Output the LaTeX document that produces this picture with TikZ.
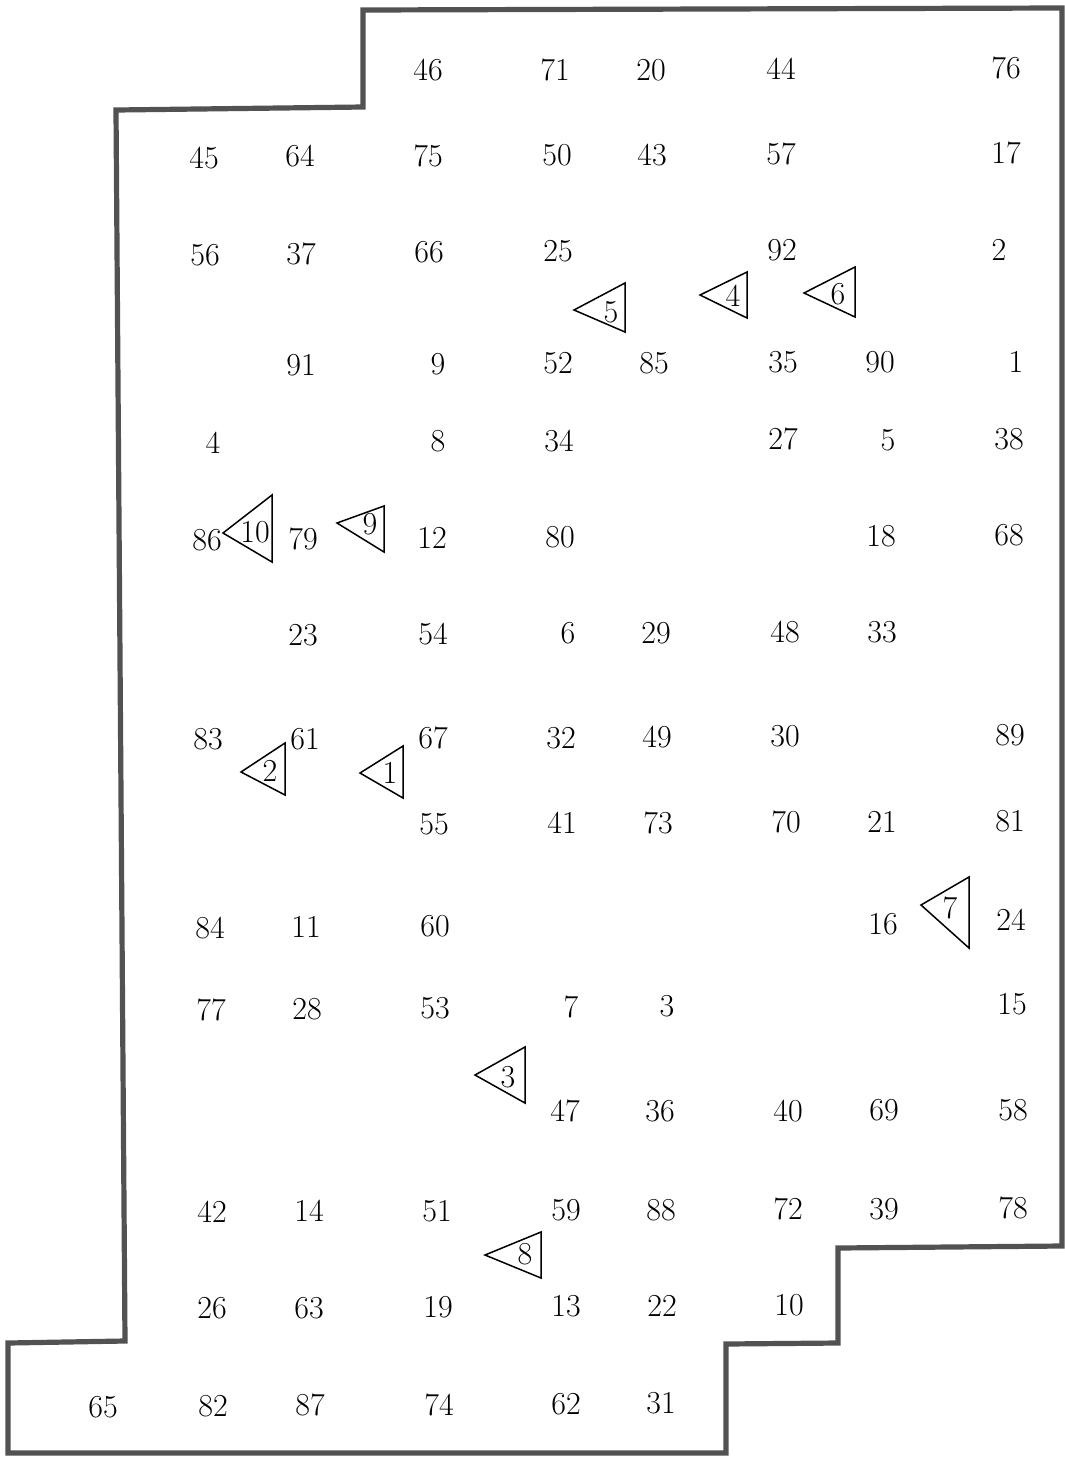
\documentclass[tikz,border=0pt]{standalone}
\begin{document}
\begin{tikzpicture}[x=0.5pt,y=-0.5pt,
  lbl/.style={inner sep=0pt,font=\fontsize{16}{18}\selectfont},
  tri/.style={draw=black,line width=0.75pt,line join=miter},
  edge/.style={draw=black!68,line width=2.6pt,line join=miter}]
\useasboundingbox (0,0) rectangle (1065,1458);
\draw[edge] (363,10) -- (1062,8) -- (1062,1246) -- (838,1248) -- (838,1343)
  -- (726,1344) -- (726,1453) -- (8,1453) -- (8,1343) -- (125,1341)
  -- (116,110) -- (363,107) -- cycle;
\foreach \n/\x/\y in {
 46/428/70, 71/555/70, 20/651/70, 44/781/69, 76/1006/68,
 45/204/158, 64/300/156, 75/428/156, 50/557/155, 43/652/155, 57/781/154, 17/1006/153,
 56/205/255, 37/301/254, 66/429/252, 25/558/251, 92/782/250, 2/999/250,
 91/301/365, 9/438/364, 52/558/363, 85/654/363, 35/783/362, 90/880/362, 1/1016/362,
 4/213/443, 8/438/441, 34/559/441, 27/783/439, 5/888/440, 38/1009/439,
 86/207/540, 79/303/539, 12/432/538, 80/560/537, 18/881/536, 68/1009/535,
 23/303/635, 54/433/634, 6/568/633, 29/656/633, 48/785/632, 33/882/632,
 83/208/739, 61/305/739, 67/433/738, 32/561/738, 49/657/737, 30/785/736, 89/1010/735,
 55/434/824, 41/562/823, 73/658/823, 70/786/822, 21/882/822, 81/1010/821,
 84/210/928, 11/306/927, 60/435/926, 16/883/924, 24/1011/920,
 77/211/1010, 28/307/1009, 53/435/1008, 7/571/1007, 3/667/1006, 15/1012/1004,
 47/565/1111, 36/660/1111, 40/788/1111, 69/884/1110, 58/1013/1110,
 42/212/1212, 14/309/1211, 51/437/1211, 59/566/1210, 88/661/1210, 72/788/1209, 39/884/1209, 78/1013/1208,
 26/212/1308, 63/309/1308, 19/438/1307, 13/566/1306, 22/662/1306, 10/789/1305,
 65/103/1407, 82/213/1406, 87/310/1405, 74/439/1405, 62/566/1404, 31/661/1403}
 \node[lbl] (n\n) at (\x,\y) {\n};
\foreach \k/\ax/\ay/\rx/\ty/\by/\lx/\ly in {
 1/360/773/403/746/798/390/773,
 2/241/772/285/743/795/270/771,
 3/475/1075/525/1047/1103/508/1077,
 4/700/295/747/272/318/733/296,
 5/574/310/625/283/332/611/312,
 6/804/293/855/267/317/838/294,
 7/921/905/969/877/948/950/908,
 8/485/1255/541/1232/1278/525/1254,
 9/337/523/384/506/552/370/524,
 10/223/533/272/495/562/255/532}
{
 \draw[tri] (\ax,\ay) -- (\rx,\ty) -- (\rx,\by) -- cycle;
 \node[lbl] (t\k) at (\lx,\ly) {\k};
}
\end{tikzpicture}
\end{document}
